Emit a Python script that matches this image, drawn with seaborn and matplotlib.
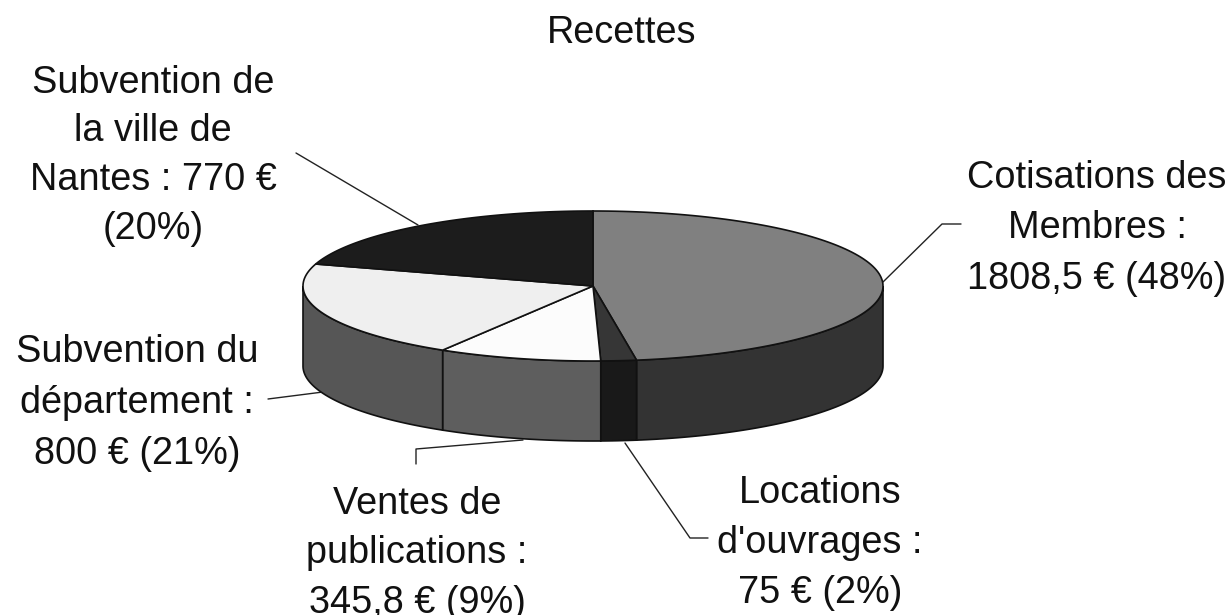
import matplotlib.pyplot as plt
import numpy as np
import seaborn as sns

title = 'Recettes'

# clockwise from the top of the pie
categories = ['Cotisations des Membres', "Locations d'ouvrages", 'Ventes de publications',
              'Subvention du département', 'Subvention de la ville de Nantes']
values = [1808.5, 75, 345.8, 800, 770]
top_colors = ['#808080', '#363636', '#fcfcfc', '#efefef', '#1c1c1c']
side_colors = ['#333333', '#191919', '#5e5e5e', '#565656', '#141414']

label_lines = [
    ['Cotisations des', 'Membres :', '1808,5 € (48%)'],
    ['Locations', "d'ouvrages :", '75 € (2%)'],
    ['Ventes de', 'publications :', '345,8 € (9%)'],
    ['Subvention du', 'département :', '800 € (21%)'],
    ['Subvention de', 'la ville de', 'Nantes : 770 €', '(20%)'],
]

# layout, in pixels of the 1231x615 picture
label_x = [1097, 820, 417, 137, 153]
label_y = [[178, 228, 279], [493, 543, 593], [504, 553, 603], [352, 403, 454], [83, 131, 180, 229]]
leaders = [
    [(883, 282), (942, 224), (961, 224)],
    [(625, 443), (690, 538), (708, 538)],
    [(523, 440), (416, 449), (416, 464)],
    [(268, 399), (323, 392)],
    [(296, 153), (418, 225)],
]
cx, cy, rx, ry, depth = 593, 286, 290, 75, 80


def rim(t):
    return cx + rx * np.sin(t), cy - ry * np.cos(t)


sns.set_theme(style='white')
plt.rcParams['font.family'] = ['Liberation Sans', 'DejaVu Sans']

fig = plt.figure(figsize=(12.31, 6.15), dpi=100)
ax = fig.add_axes([0, 0, 1, 1])
ax.set_xlim(0, 1231)
ax.set_ylim(615, 0)
ax.axis('off')

edges = np.radians(np.concatenate([[0], np.cumsum(values)]) / np.sum(values) * 360)

# side wall, front half only
for i in range(len(values)):
    a = max(edges[i], np.pi / 2)
    b = min(edges[i + 1], 3 * np.pi / 2)
    if a >= b:
        continue
    t = np.linspace(a, b, 80)
    x, y = rim(t)
    ax.fill(np.r_[x, x[::-1]], np.r_[y, y[::-1] + depth], facecolor=side_colors[i],
            edgecolor='#111111', lw=1.2, zorder=2)

# top face
for i in range(len(values)):
    t = np.linspace(edges[i], edges[i + 1], 120)
    x, y = rim(t)
    ax.fill(np.r_[cx, x], np.r_[cy, y], facecolor=top_colors[i], edgecolor='#111111', lw=1.2, zorder=3)

for pts in leaders:
    xs, ys = zip(*pts)
    ax.plot(xs, ys, color='#222222', lw=1, zorder=1)

ax.text(622, 33, title, fontsize=27.3, color='#111111', ha='center', va='center')
for lines, x, ys in zip(label_lines, label_x, label_y):
    for line, y in zip(lines, ys):
        ax.text(x, y, line, fontsize=27.3, color='#111111', ha='center', va='center')

fig.savefig('out.png', dpi=100)
